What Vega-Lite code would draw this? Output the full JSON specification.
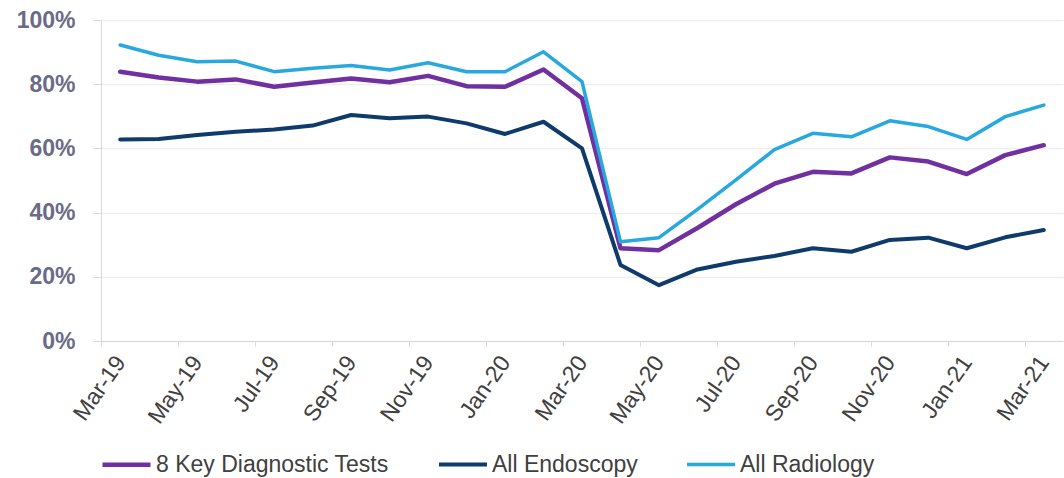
{
  "$schema": "https://vega.github.io/schema/vega-lite/v6.json",
  "width": 962,
  "height": 321,
  "autosize": {"type": "none"},
  "padding": {"left": 101, "top": 20, "right": 1, "bottom": 137},
  "background": "white",
  "config": {"view": {"stroke": null}, "font": "Liberation Sans"},
  "data": {"values": [
    {"m": "Mar-19", "s": "8 Key Diagnostic Tests", "v": 83.9},
    {"m": "Apr-19", "s": "8 Key Diagnostic Tests", "v": 82.1},
    {"m": "May-19", "s": "8 Key Diagnostic Tests", "v": 80.8},
    {"m": "Jun-19", "s": "8 Key Diagnostic Tests", "v": 81.5},
    {"m": "Jul-19", "s": "8 Key Diagnostic Tests", "v": 79.2},
    {"m": "Aug-19", "s": "8 Key Diagnostic Tests", "v": 80.5},
    {"m": "Sep-19", "s": "8 Key Diagnostic Tests", "v": 81.8},
    {"m": "Oct-19", "s": "8 Key Diagnostic Tests", "v": 80.6},
    {"m": "Nov-19", "s": "8 Key Diagnostic Tests", "v": 82.6},
    {"m": "Dec-19", "s": "8 Key Diagnostic Tests", "v": 79.4},
    {"m": "Jan-20", "s": "8 Key Diagnostic Tests", "v": 79.2},
    {"m": "Feb-20", "s": "8 Key Diagnostic Tests", "v": 84.6},
    {"m": "Mar-20", "s": "8 Key Diagnostic Tests", "v": 75.6},
    {"m": "Apr-20", "s": "8 Key Diagnostic Tests", "v": 28.9},
    {"m": "May-20", "s": "8 Key Diagnostic Tests", "v": 28.3},
    {"m": "Jun-20", "s": "8 Key Diagnostic Tests", "v": 35.2},
    {"m": "Jul-20", "s": "8 Key Diagnostic Tests", "v": 42.6},
    {"m": "Aug-20", "s": "8 Key Diagnostic Tests", "v": 49.0},
    {"m": "Sep-20", "s": "8 Key Diagnostic Tests", "v": 52.7},
    {"m": "Oct-20", "s": "8 Key Diagnostic Tests", "v": 52.2},
    {"m": "Nov-20", "s": "8 Key Diagnostic Tests", "v": 57.2},
    {"m": "Dec-20", "s": "8 Key Diagnostic Tests", "v": 55.9},
    {"m": "Jan-21", "s": "8 Key Diagnostic Tests", "v": 52.0},
    {"m": "Feb-21", "s": "8 Key Diagnostic Tests", "v": 57.9},
    {"m": "Mar-21", "s": "8 Key Diagnostic Tests", "v": 61.0},
    {"m": "Mar-19", "s": "All Endoscopy", "v": 62.8},
    {"m": "Apr-19", "s": "All Endoscopy", "v": 62.9},
    {"m": "May-19", "s": "All Endoscopy", "v": 64.2},
    {"m": "Jun-19", "s": "All Endoscopy", "v": 65.2},
    {"m": "Jul-19", "s": "All Endoscopy", "v": 65.9},
    {"m": "Aug-19", "s": "All Endoscopy", "v": 67.1},
    {"m": "Sep-19", "s": "All Endoscopy", "v": 70.4},
    {"m": "Oct-19", "s": "All Endoscopy", "v": 69.4},
    {"m": "Nov-19", "s": "All Endoscopy", "v": 69.9},
    {"m": "Dec-19", "s": "All Endoscopy", "v": 67.8},
    {"m": "Jan-20", "s": "All Endoscopy", "v": 64.5},
    {"m": "Feb-20", "s": "All Endoscopy", "v": 68.3},
    {"m": "Mar-20", "s": "All Endoscopy", "v": 60.0},
    {"m": "Apr-20", "s": "All Endoscopy", "v": 23.7},
    {"m": "May-20", "s": "All Endoscopy", "v": 17.4},
    {"m": "Jun-20", "s": "All Endoscopy", "v": 22.3},
    {"m": "Jul-20", "s": "All Endoscopy", "v": 24.7},
    {"m": "Aug-20", "s": "All Endoscopy", "v": 26.5},
    {"m": "Sep-20", "s": "All Endoscopy", "v": 28.9},
    {"m": "Oct-20", "s": "All Endoscopy", "v": 27.8},
    {"m": "Nov-20", "s": "All Endoscopy", "v": 31.5},
    {"m": "Dec-20", "s": "All Endoscopy", "v": 32.2},
    {"m": "Jan-21", "s": "All Endoscopy", "v": 28.9},
    {"m": "Feb-21", "s": "All Endoscopy", "v": 32.3},
    {"m": "Mar-21", "s": "All Endoscopy", "v": 34.6},
    {"m": "Mar-19", "s": "All Radiology", "v": 92.2},
    {"m": "Apr-19", "s": "All Radiology", "v": 89.0},
    {"m": "May-19", "s": "All Radiology", "v": 87.0},
    {"m": "Jun-19", "s": "All Radiology", "v": 87.2},
    {"m": "Jul-19", "s": "All Radiology", "v": 83.9},
    {"m": "Aug-19", "s": "All Radiology", "v": 85.0},
    {"m": "Sep-19", "s": "All Radiology", "v": 85.8},
    {"m": "Oct-19", "s": "All Radiology", "v": 84.4},
    {"m": "Nov-19", "s": "All Radiology", "v": 86.7},
    {"m": "Dec-19", "s": "All Radiology", "v": 83.9},
    {"m": "Jan-20", "s": "All Radiology", "v": 83.9},
    {"m": "Feb-20", "s": "All Radiology", "v": 90.1},
    {"m": "Mar-20", "s": "All Radiology", "v": 80.8},
    {"m": "Apr-20", "s": "All Radiology", "v": 30.9},
    {"m": "May-20", "s": "All Radiology", "v": 32.2},
    {"m": "Jun-20", "s": "All Radiology", "v": 41.0},
    {"m": "Jul-20", "s": "All Radiology", "v": 50.2},
    {"m": "Aug-20", "s": "All Radiology", "v": 59.6},
    {"m": "Sep-20", "s": "All Radiology", "v": 64.7},
    {"m": "Oct-20", "s": "All Radiology", "v": 63.6},
    {"m": "Nov-20", "s": "All Radiology", "v": 68.6},
    {"m": "Dec-20", "s": "All Radiology", "v": 66.8},
    {"m": "Jan-21", "s": "All Radiology", "v": 62.8},
    {"m": "Feb-21", "s": "All Radiology", "v": 69.9},
    {"m": "Mar-21", "s": "All Radiology", "v": 73.5}
  ]},
  "mark": {"type": "line", "strokeJoin": "round", "strokeCap": "round"},
  "encoding": {
    "x": {
      "field": "m", "type": "ordinal", "sort": null,
      "scale": {"type": "point", "padding": 0.5},
      "axis": {
        "title": null,
        "values": ["Mar-19","May-19","Jul-19","Sep-19","Nov-19","Jan-20","Mar-20","May-20","Jul-20","Sep-20","Nov-20","Jan-21","Mar-21"],
        "tickOffset": -19.24,
        "labelOffset": 19.24,
        "labelAngle": -55,
        "labelAlign": "right",
        "labelBaseline": "middle",
        "labelFontSize": 23,
        "labelColor": "#404040",
        "labelPadding": 12,
        "tickSize": 5,
        "tickColor": "#D9D9D9",
        "domainColor": "#D9D9D9",
        "grid": false
      }
    },
    "y": {
      "field": "v", "type": "quantitative",
      "scale": {"domain": [0, 100], "nice": false},
      "axis": {
        "title": null,
        "values": [0, 20, 40, 60, 80, 100],
        "labelExpr": "datum.value + '%'",
        "labelFontSize": 23,
        "labelFontWeight": "bold",
        "labelColor": "#6B6A88",
        "labelPadding": 18,
        "tickSize": 8,
        "tickColor": "#D9D9D9",
        "domainColor": "#D9D9D9",
        "gridColor": "#EEEEEE",
        "gridWidth": 1.5
      }
    },
    "color": {
      "field": "s", "type": "nominal",
      "scale": {"domain": ["8 Key Diagnostic Tests", "All Endoscopy", "All Radiology"], "range": ["#7030A0", "#0E3B6C", "#27A8DF"]},
      "legend": {
        "title": null,
        "orient": "none",
        "legendX": -1,
        "legendY": 418,
        "direction": "horizontal",
        "symbolType": "stroke",
        "symbolSize": 2304,
        "symbolStrokeWidth": 5,
        "labelFontSize": 23,
        "labelLimit": 500,
        "labelColor": "#404040",
        "labelOffset": 3,
        "columnPadding": 42
      }
    },
    "strokeWidth": {
      "field": "s", "type": "nominal",
      "scale": {"domain": ["8 Key Diagnostic Tests", "All Endoscopy", "All Radiology"], "range": [4.5, 3.5, 3.5]},
      "legend": null
    }
  }
}
